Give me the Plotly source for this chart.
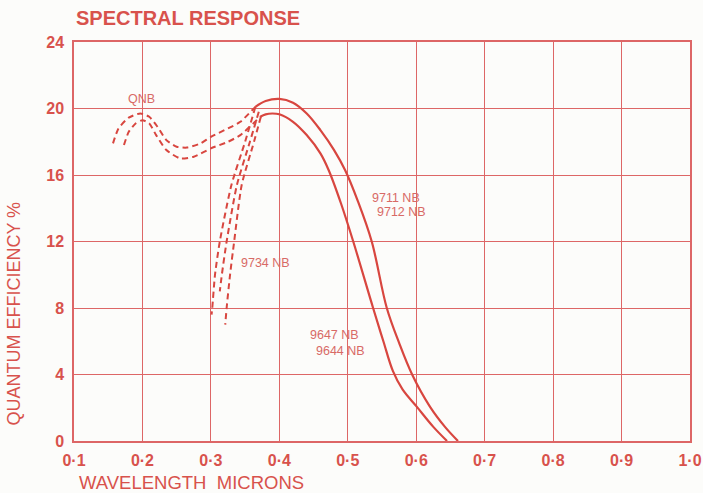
import plotly.graph_objects as go

# ---- data ----
x_ticks = [0.1, 0.2, 0.3, 0.4, 0.5, 0.6, 0.7, 0.8, 0.9, 1.0]
x_tick_text = ["0·1", "0·2", "0·3", "0·4", "0·5", "0·6", "0·7", "0·8", "0·9", "1·0"]
y_ticks = [0, 4, 8, 12, 16, 20, 24]

# 9711 NB / 9712 NB (upper solid)
upper_x = [0.365, 0.38, 0.40, 0.42, 0.44, 0.46, 0.48, 0.496, 0.515, 0.535, 0.557, 0.575, 0.594, 0.62, 0.642, 0.661]
upper_y = [20.1, 20.45, 20.58, 20.35, 19.7, 18.7, 17.5, 16.3, 14.4, 12.0, 8.0, 5.9, 4.0, 2.07, 0.85, 0.0]

# 9647 NB / 9644 NB (lower solid)
lower_x = [0.372, 0.38, 0.39, 0.40, 0.42, 0.44, 0.46, 0.472, 0.49, 0.508, 0.537, 0.552, 0.566, 0.58, 0.601, 0.625, 0.645]
lower_y = [19.5, 19.65, 19.7, 19.65, 19.2, 18.4, 17.3, 16.3, 14.3, 12.0, 8.0, 6.0, 4.2, 3.1, 2.05, 0.85, 0.0]

# QNB (dashed, two lines)
qnb_outer_x = [0.157, 0.165, 0.18, 0.197, 0.21, 0.222, 0.235, 0.25, 0.265, 0.285, 0.30, 0.325, 0.343, 0.365]
qnb_outer_y = [17.9, 18.8, 19.45, 19.7, 19.5, 18.9, 18.1, 17.7, 17.65, 17.9, 18.3, 18.8, 19.2, 20.1]
qnb_inner_x = [0.173, 0.18, 0.19, 0.20, 0.21, 0.22, 0.235, 0.255, 0.275, 0.30, 0.325, 0.343, 0.372]
qnb_inner_y = [17.8, 18.6, 19.1, 19.3, 19.1, 18.4, 17.5, 17.0, 17.1, 17.6, 18.0, 18.4, 19.5]

# 9734 NB (dashed, three lines)
d1_x = [0.365, 0.350, 0.330, 0.313, 0.306, 0.302, 0.301]
d1_y = [20.1, 18.0, 15.4, 12.0, 10.0, 8.0, 7.6]
d2_x = [0.370, 0.357, 0.338, 0.323, 0.316, 0.313]
d2_y = [19.8, 18.0, 15.4, 12.0, 10.0, 9.0]
d3_x = [0.373, 0.363, 0.345, 0.334, 0.328, 0.323, 0.321]
d3_y = [19.5, 18.0, 15.4, 12.0, 10.0, 8.0, 7.0]

# labels
label_text = ["QNB", "9734 NB", "9711 NB", "9712 NB", "9647 NB", "9644 NB"]
label_x = [0.199, 0.380, 0.570, 0.579, 0.480, 0.490]
label_y = [20.6, 10.7, 14.6, 13.8, 6.4, 5.4]

CURVE = "#d8463f"
GRID = "#dd6666"
TEXT = "#d8524c"
FONT = "Liberation Sans"

fig = go.Figure()

for xs, ys in [(upper_x, upper_y), (lower_x, lower_y)]:
    fig.add_trace(go.Scatter(x=xs, y=ys, mode="lines",
                             line=dict(color=CURVE, width=2.2, shape="spline", smoothing=1.0),
                             showlegend=False, hoverinfo="skip"))

for xs, ys in [(qnb_outer_x, qnb_outer_y), (qnb_inner_x, qnb_inner_y),
               (d1_x, d1_y), (d2_x, d2_y), (d3_x, d3_y)]:
    fig.add_trace(go.Scatter(x=xs, y=ys, mode="lines",
                             line=dict(color=CURVE, width=2, dash="6px,4px", shape="spline", smoothing=0.6),
                             showlegend=False, hoverinfo="skip"))

for t, lx, ly in zip(label_text, label_x, label_y):
    fig.add_annotation(x=lx, y=ly, text=t, showarrow=False,
                       font=dict(family=FONT, size=12.5, color="#d86a66"))

# titles
fig.add_annotation(xref="paper", yref="paper", x=0.0, y=1.06, xanchor="left", yanchor="middle",
                   text="<b>SPECTRAL RESPONSE</b>", showarrow=False,
                   font=dict(family=FONT, size=20, color=TEXT))
fig.add_annotation(xref="paper", yref="paper", x=0.19, y=-0.103, xanchor="center", yanchor="middle",
                   text="WAVELENGTH  MICRONS", showarrow=False,
                   font=dict(family=FONT, size=18.5, color=TEXT))
fig.add_annotation(xref="paper", yref="paper", x=-0.097, y=0.32, xanchor="center", yanchor="middle",
                   text="QUANTUM EFFICIENCY %", textangle=-90, showarrow=False,
                   font=dict(family=FONT, size=18, color=TEXT))

fig.update_xaxes(range=[0.1, 1.0], tickvals=x_ticks, ticktext=x_tick_text,
                 showgrid=True, gridcolor=GRID, gridwidth=1.3,
                 showline=True, linecolor=GRID, linewidth=1.5, mirror=True,
                 zeroline=False, ticks="", ticklabelstandoff=4, automargin=False,
                 tickfont=dict(family=FONT, size=16, color=TEXT, weight="bold"))
fig.update_yaxes(range=[0, 24], tickvals=y_ticks,
                 showgrid=True, gridcolor=GRID, gridwidth=1.3,
                 showline=True, linecolor=GRID, linewidth=1.5, mirror=True,
                 zeroline=False, ticks="", ticklabelstandoff=5, automargin=False,
                 tickfont=dict(family=FONT, size=16, color=TEXT, weight="bold"))

fig.update_layout(width=703, height=493,
                  margin=dict(l=74, r=13, t=42, b=52, autoexpand=False),
                  paper_bgcolor="#fcfcfa", plot_bgcolor="#fcfcfa",
                  showlegend=False)

# remove the default 8px page margin so the figure fills the window exactly
fig.write_html("out.html", config={"displayModeBar": False},
               post_script="document.body.style.margin='0';document.body.style.overflow='hidden';")
